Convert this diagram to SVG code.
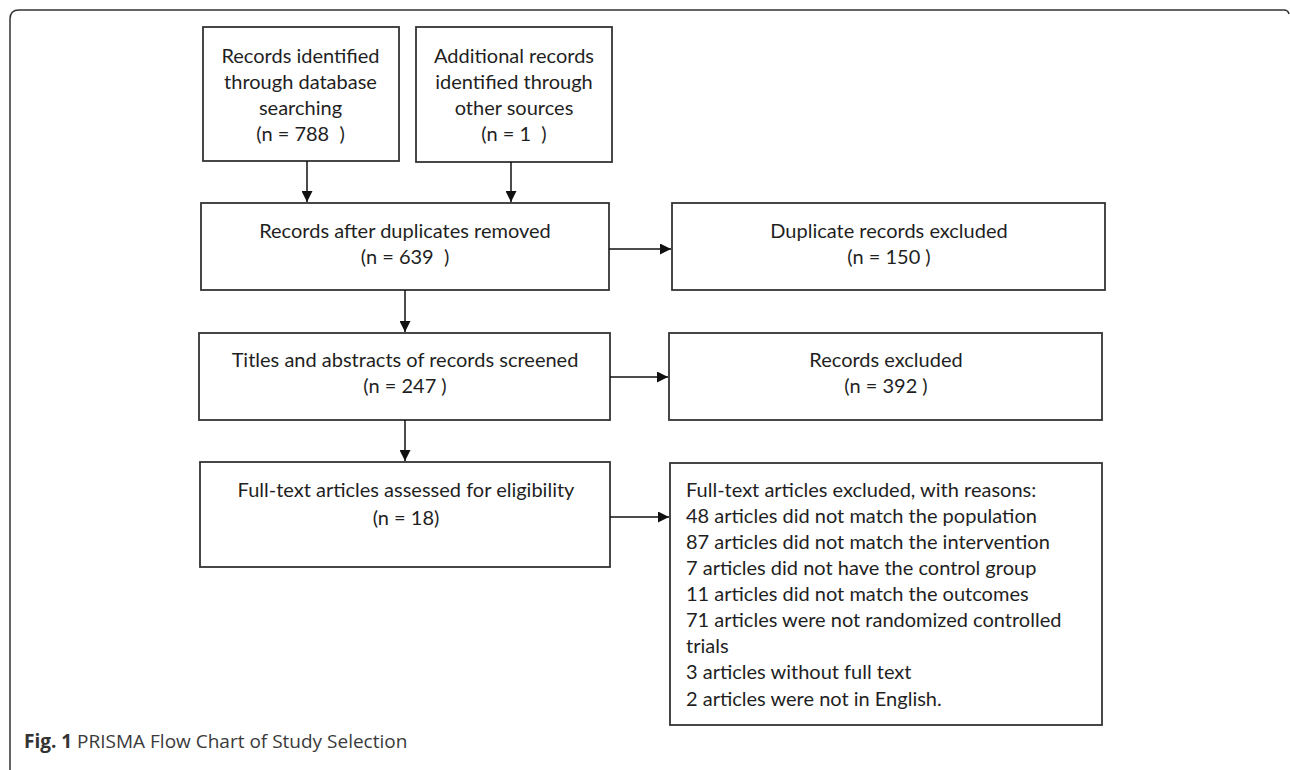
<svg xmlns="http://www.w3.org/2000/svg" width="1290" height="770" viewBox="0 0 1290 770">
<defs>
<marker id="ah" viewBox="0 0 11 11" refX="11" refY="5.5" markerWidth="11" markerHeight="11" markerUnits="userSpaceOnUse" orient="auto">
<path d="M0,0 L11,5.5 L0,11 z" fill="#111"/>
</marker>
<style>
.box{fill:#fff;stroke:#333;stroke-width:1.8}
.t{font-family:Lato,"Liberation Sans",sans-serif;font-size:20px;fill:#1f1f1f;text-anchor:middle;white-space:pre}
.tl{font-family:Lato,"Liberation Sans",sans-serif;font-size:20px;fill:#1f1f1f}
.c{stroke:#111;stroke-width:1.5;fill:none;marker-end:url(#ah)}
.cap{font-family:"Open Sans","Noto Sans",sans-serif;font-size:19px;fill:#3a3a3a}
</style>
</defs>
<rect width="1290" height="770" fill="#fff"/>
<path d="M10,770 L10,19 Q10,10 19,10 L1284,10 Q1288,10 1289,14" fill="none" stroke="#333" stroke-width="1.5"/>
<g id="n1"><rect class="box" x="203" y="27" width="196" height="134"/>
<text class="t" x="300.5" y="63">Records identified</text>
<text class="t" x="300.5" y="89">through database</text>
<text class="t" x="300.5" y="115">searching</text>
<text class="t" x="300.5" y="141" xml:space="preserve">(n = 788  )</text></g>
<g id="n2"><rect class="box" x="416" y="27" width="196" height="135"/>
<text class="t" x="514" y="63">Additional records</text>
<text class="t" x="514" y="89">identified through</text>
<text class="t" x="514" y="115">other sources</text>
<text class="t" x="514" y="141" xml:space="preserve">(n = 1  )</text></g>
<g id="n3"><rect class="box" x="201" y="203" width="408" height="87"/>
<text class="t" x="405" y="238">Records after duplicates removed</text>
<text class="t" x="405" y="264" xml:space="preserve">(n = 639  )</text></g>
<g id="n4"><rect class="box" x="672" y="203" width="433" height="87"/>
<text class="t" x="889" y="238">Duplicate records excluded</text>
<text class="t" x="889" y="264">(n = 150 )</text></g>
<g id="n5"><rect class="box" x="199" y="333" width="411" height="87"/>
<text class="t" x="405" y="367">Titles and abstracts of records screened</text>
<text class="t" x="405" y="393">(n = 247 )</text></g>
<g id="n6"><rect class="box" x="669" y="333" width="433" height="87"/>
<text class="t" x="886" y="367">Records excluded</text>
<text class="t" x="886" y="393">(n = 392 )</text></g>
<g id="n7"><rect class="box" x="200" y="462" width="410" height="105"/>
<text class="t" x="406" y="497">Full-text articles assessed for eligibility</text>
<text class="t" x="406" y="525">(n = 18)</text></g>
<g id="n8"><rect class="box" x="670" y="463" width="432" height="262"/>
<text class="tl" x="686" y="497">Full-text articles excluded, with reasons:</text>
<text class="tl" x="686" y="523">48 articles did not match the population</text>
<text class="tl" x="686" y="549">87 articles did not match the intervention</text>
<text class="tl" x="686" y="575">7 articles did not have the control group</text>
<text class="tl" x="686" y="601">11 articles did not match the outcomes</text>
<text class="tl" x="686" y="627">71 articles were not randomized controlled</text>
<text class="tl" x="686" y="653">trials</text>
<text class="tl" x="686" y="679">3 articles without full text</text>
<text class="tl" x="686" y="706">2 articles were not in English.</text></g>
<g id="connectors">
<line class="c" x1="307" y1="161" x2="307" y2="202"/>
<line class="c" x1="511" y1="162" x2="511" y2="202"/>
<line class="c" x1="609" y1="249" x2="671" y2="249"/>
<line class="c" x1="405" y1="290" x2="405" y2="332"/>
<line class="c" x1="610" y1="377" x2="668" y2="377"/>
<line class="c" x1="405" y1="420" x2="405" y2="461"/>
<line class="c" x1="610" y1="517" x2="669" y2="517"/>
</g>
<g id="caption"><text class="cap" x="24" y="748"><tspan font-weight="bold" fill="#333">Fig. 1</tspan> PRISMA Flow Chart of Study Selection</text></g>
</svg>
